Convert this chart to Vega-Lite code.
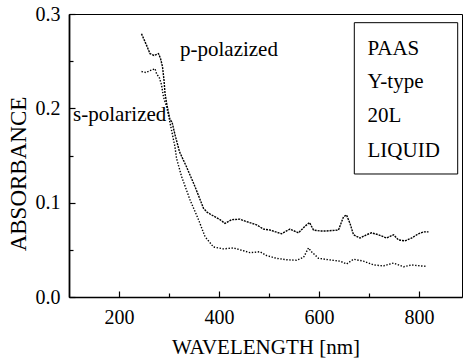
{
  "$schema": "https://vega.github.io/schema/vega-lite/v6.json",
  "width": 393,
  "height": 283,
  "autosize": "none",
  "padding": {"left": 69, "top": 14, "right": 3, "bottom": 64},
  "background": "white",
  "config": {"view": {"stroke": "black", "strokeWidth": 1}, "font": "Liberation Serif"},
  "datasets": {
    "spectra": [
      {"series": "p-polarized", "wavelength": 245, "absorbance": 0.279},
      {"series": "p-polarized", "wavelength": 255, "absorbance": 0.267},
      {"series": "p-polarized", "wavelength": 262, "absorbance": 0.258},
      {"series": "p-polarized", "wavelength": 270, "absorbance": 0.256},
      {"series": "p-polarized", "wavelength": 279, "absorbance": 0.258},
      {"series": "p-polarized", "wavelength": 283, "absorbance": 0.253},
      {"series": "p-polarized", "wavelength": 287, "absorbance": 0.244},
      {"series": "p-polarized", "wavelength": 290, "absorbance": 0.230},
      {"series": "p-polarized", "wavelength": 292, "absorbance": 0.216},
      {"series": "p-polarized", "wavelength": 295, "absorbance": 0.206},
      {"series": "p-polarized", "wavelength": 298, "absorbance": 0.198},
      {"series": "p-polarized", "wavelength": 302, "absorbance": 0.188},
      {"series": "p-polarized", "wavelength": 306, "absorbance": 0.1855},
      {"series": "p-polarized", "wavelength": 312, "absorbance": 0.172},
      {"series": "p-polarized", "wavelength": 321, "absorbance": 0.154},
      {"series": "p-polarized", "wavelength": 335, "absorbance": 0.138},
      {"series": "p-polarized", "wavelength": 352, "absorbance": 0.117},
      {"series": "p-polarized", "wavelength": 369, "absorbance": 0.094},
      {"series": "p-polarized", "wavelength": 376, "absorbance": 0.090},
      {"series": "p-polarized", "wavelength": 385, "absorbance": 0.087},
      {"series": "p-polarized", "wavelength": 402, "absorbance": 0.082},
      {"series": "p-polarized", "wavelength": 412, "absorbance": 0.078},
      {"series": "p-polarized", "wavelength": 425, "absorbance": 0.082},
      {"series": "p-polarized", "wavelength": 442, "absorbance": 0.0825},
      {"series": "p-polarized", "wavelength": 449, "absorbance": 0.081},
      {"series": "p-polarized", "wavelength": 475, "absorbance": 0.0765},
      {"series": "p-polarized", "wavelength": 489, "absorbance": 0.072},
      {"series": "p-polarized", "wavelength": 502, "absorbance": 0.071},
      {"series": "p-polarized", "wavelength": 525, "absorbance": 0.067},
      {"series": "p-polarized", "wavelength": 542, "absorbance": 0.072},
      {"series": "p-polarized", "wavelength": 559, "absorbance": 0.068},
      {"series": "p-polarized", "wavelength": 572, "absorbance": 0.075},
      {"series": "p-polarized", "wavelength": 581, "absorbance": 0.079},
      {"series": "p-polarized", "wavelength": 589, "absorbance": 0.071},
      {"series": "p-polarized", "wavelength": 602, "absorbance": 0.070},
      {"series": "p-polarized", "wavelength": 615, "absorbance": 0.070},
      {"series": "p-polarized", "wavelength": 639, "absorbance": 0.071},
      {"series": "p-polarized", "wavelength": 649, "absorbance": 0.085},
      {"series": "p-polarized", "wavelength": 655, "absorbance": 0.087},
      {"series": "p-polarized", "wavelength": 662, "absorbance": 0.078},
      {"series": "p-polarized", "wavelength": 669, "absorbance": 0.066},
      {"series": "p-polarized", "wavelength": 682, "absorbance": 0.0625},
      {"series": "p-polarized", "wavelength": 695, "absorbance": 0.066},
      {"series": "p-polarized", "wavelength": 705, "absorbance": 0.068},
      {"series": "p-polarized", "wavelength": 719, "absorbance": 0.066},
      {"series": "p-polarized", "wavelength": 735, "absorbance": 0.0625},
      {"series": "p-polarized", "wavelength": 749, "absorbance": 0.066},
      {"series": "p-polarized", "wavelength": 759, "absorbance": 0.0605},
      {"series": "p-polarized", "wavelength": 772, "absorbance": 0.0595},
      {"series": "p-polarized", "wavelength": 785, "absorbance": 0.0625},
      {"series": "p-polarized", "wavelength": 799, "absorbance": 0.067},
      {"series": "p-polarized", "wavelength": 809, "absorbance": 0.069},
      {"series": "p-polarized", "wavelength": 819, "absorbance": 0.069},
      {"series": "s-polarized", "wavelength": 245, "absorbance": 0.239},
      {"series": "s-polarized", "wavelength": 254, "absorbance": 0.238},
      {"series": "s-polarized", "wavelength": 262, "absorbance": 0.240},
      {"series": "s-polarized", "wavelength": 272, "absorbance": 0.242},
      {"series": "s-polarized", "wavelength": 275, "absorbance": 0.237},
      {"series": "s-polarized", "wavelength": 281, "absorbance": 0.232},
      {"series": "s-polarized", "wavelength": 285, "absorbance": 0.225},
      {"series": "s-polarized", "wavelength": 289, "absorbance": 0.212},
      {"series": "s-polarized", "wavelength": 295, "absorbance": 0.202},
      {"series": "s-polarized", "wavelength": 300, "absorbance": 0.190},
      {"series": "s-polarized", "wavelength": 305, "absorbance": 0.177},
      {"series": "s-polarized", "wavelength": 312, "absorbance": 0.159},
      {"series": "s-polarized", "wavelength": 315, "absorbance": 0.147},
      {"series": "s-polarized", "wavelength": 325, "absorbance": 0.128},
      {"series": "s-polarized", "wavelength": 342, "absorbance": 0.103},
      {"series": "s-polarized", "wavelength": 359, "absorbance": 0.082},
      {"series": "s-polarized", "wavelength": 372, "absorbance": 0.064},
      {"series": "s-polarized", "wavelength": 389, "absorbance": 0.053},
      {"series": "s-polarized", "wavelength": 409, "absorbance": 0.051},
      {"series": "s-polarized", "wavelength": 429, "absorbance": 0.052},
      {"series": "s-polarized", "wavelength": 449, "absorbance": 0.049},
      {"series": "s-polarized", "wavelength": 462, "absorbance": 0.047},
      {"series": "s-polarized", "wavelength": 482, "absorbance": 0.048},
      {"series": "s-polarized", "wavelength": 495, "absorbance": 0.044},
      {"series": "s-polarized", "wavelength": 515, "absorbance": 0.041},
      {"series": "s-polarized", "wavelength": 535, "absorbance": 0.0395},
      {"series": "s-polarized", "wavelength": 555, "absorbance": 0.039},
      {"series": "s-polarized", "wavelength": 569, "absorbance": 0.042},
      {"series": "s-polarized", "wavelength": 579, "absorbance": 0.052},
      {"series": "s-polarized", "wavelength": 585, "absorbance": 0.048},
      {"series": "s-polarized", "wavelength": 599, "absorbance": 0.041},
      {"series": "s-polarized", "wavelength": 619, "absorbance": 0.0395},
      {"series": "s-polarized", "wavelength": 642, "absorbance": 0.038},
      {"series": "s-polarized", "wavelength": 655, "absorbance": 0.035},
      {"series": "s-polarized", "wavelength": 669, "absorbance": 0.040},
      {"series": "s-polarized", "wavelength": 689, "absorbance": 0.038},
      {"series": "s-polarized", "wavelength": 709, "absorbance": 0.034},
      {"series": "s-polarized", "wavelength": 729, "absorbance": 0.033},
      {"series": "s-polarized", "wavelength": 749, "absorbance": 0.036},
      {"series": "s-polarized", "wavelength": 769, "absorbance": 0.032},
      {"series": "s-polarized", "wavelength": 785, "absorbance": 0.034},
      {"series": "s-polarized", "wavelength": 802, "absorbance": 0.033},
      {"series": "s-polarized", "wavelength": 815, "absorbance": 0.0325}
    ],
    "notes": [
      {"wavelength": 322, "absorbance": 0.2558, "label": "p-polazized"},
      {"wavelength": 108, "absorbance": 0.1869, "label": "s-polarized"},
      {"wavelength": 697, "absorbance": 0.2565, "label": "PAAS"},
      {"wavelength": 697, "absorbance": 0.2216, "label": "Y-type"},
      {"wavelength": 697, "absorbance": 0.1858, "label": "20L"},
      {"wavelength": 697, "absorbance": 0.1487, "label": "LIQUID"}
    ],
    "box": [
      {"x1": 670.6, "x2": 877.4, "y1": 0.2908, "y2": 0.1304}
    ]
  },
  "layer": [
    {
      "data": {"name": "spectra"},
      "mark": {"type": "line", "color": "black", "strokeWidth": 1.4},
      "encoding": {
        "x": {
          "field": "wavelength", "type": "quantitative",
          "scale": {"domain": [100, 886], "nice": false, "zero": false},
          "axis": {
            "orient": "bottom", "values": [200, 400, 600, 800], "grid": false,
            "tickSize": -6, "tickColor": "black", "tickWidth": 1.2,
            "domainColor": "black", "domainWidth": 1.6,
            "labelFont": "Liberation Serif", "labelFontSize": 20, "labelColor": "black",
            "labelPadding": 16, "labelBaseline": "top",
            "title": "WAVELENGTH [nm]", "titleFont": "Liberation Serif", "titleFontSize": 21,
            "titleFontWeight": "normal", "titleColor": "black",
            "titleBaseline": "alphabetic", "titleY": 56
          }
        },
        "y": {
          "field": "absorbance", "type": "quantitative",
          "scale": {"domain": [0, 0.3], "nice": false},
          "axis": {
            "orient": "left", "values": [0, 0.1, 0.2, 0.3], "format": ".1f", "grid": false,
            "tickSize": -6, "tickColor": "black", "tickWidth": 1.2,
            "domainColor": "black", "domainWidth": 1.8,
            "labelFont": "Liberation Serif", "labelFontSize": 20, "labelColor": "black",
            "labelPadding": 15, "labelBaseline": "middle",
            "title": "ABSORBANCE", "titleFont": "Liberation Serif", "titleFontSize": 23,
            "titleFontWeight": "normal", "titleColor": "black",
            "titleBaseline": "alphabetic", "titleX": -44, "titleY": 159.5, "titleAngle": -90
          }
        },
        "detail": {"field": "series", "type": "nominal"},
        "strokeDash": {
          "field": "series", "type": "nominal",
          "scale": {"domain": ["p-polarized", "s-polarized"], "range": [[2, 1], [1.4, 1.6]]},
          "legend": null
        }
      }
    },
    {
      "data": {"name": "spectra"},
      "mark": {"type": "point", "opacity": 0},
      "encoding": {
        "x": {
          "field": "wavelength", "type": "quantitative",
          "axis": {
            "orient": "bottom", "values": [300, 500, 700], "grid": false, "labels": false,
            "domain": false, "title": null, "tickSize": -4, "tickColor": "black", "tickWidth": 1.2
          }
        },
        "y": {
          "field": "absorbance", "type": "quantitative",
          "axis": {
            "orient": "left", "values": [0.05, 0.15, 0.25], "grid": false, "labels": false,
            "domain": false, "title": null, "tickSize": -4, "tickColor": "black", "tickWidth": 1.2
          }
        }
      }
    },
    {
      "data": {"name": "box"},
      "mark": {"type": "rect", "fillOpacity": 0, "stroke": "black", "strokeWidth": 1},
      "encoding": {
        "x": {"field": "x1", "type": "quantitative", "axis": null},
        "x2": {"field": "x2"},
        "y": {"field": "y1", "type": "quantitative", "axis": null},
        "y2": {"field": "y2"}
      }
    },
    {
      "data": {"name": "notes"},
      "mark": {"type": "text", "align": "left", "baseline": "alphabetic", "font": "Liberation Serif", "fontSize": 21, "color": "black"},
      "encoding": {
        "x": {"field": "wavelength", "type": "quantitative", "axis": null},
        "y": {"field": "absorbance", "type": "quantitative", "axis": null},
        "text": {"field": "label"}
      }
    }
  ],
  "resolve": {"axis": {"x": "independent", "y": "independent"}}
}
